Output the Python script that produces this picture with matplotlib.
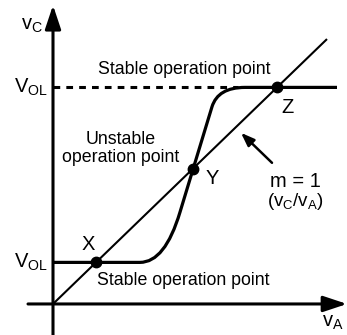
import matplotlib
matplotlib.use('Agg')
import matplotlib.pyplot as plt
from matplotlib.path import Path
from matplotlib.patches import PathPatch

plt.rcParams['font.family'] = ['Liberation Sans', 'DejaVu Sans']
plt.rcParams['mathtext.fontset'] = 'custom'
plt.rcParams['mathtext.rm'] = 'Liberation Sans'

# output levels of the transfer curve
v_ol_low = 43
v_ol_high = 224

# transfer curve: flat - rounded knee - steep rise - rounded knee - flat
curve_x = [0, 87, 112, 127, 159, 165, 192, 284]
curve_y = [v_ol_low, v_ol_low, v_ol_low, 95, 204, v_ol_high, v_ol_high, v_ol_high]
curve_codes = [Path.MOVETO, Path.LINETO, Path.CURVE3, Path.CURVE3,
               Path.LINETO, Path.CURVE3, Path.CURVE3, Path.LINETO]

# unity-gain line v_C = v_A
line_va = [0, 274]

# operating points
points = {'X': v_ol_low, 'Y': 140, 'Z': v_ol_high}

fig = plt.figure(figsize=(3.47, 3.35), dpi=100)
ax = fig.add_axes([0, 0, 1, 1])
ax.set_xlim(-53, 294)
ax.set_ylim(-32.1, 314.4)
ax.axis('off')

# axes with arrow heads
arrow = dict(arrowstyle='-|>,head_length=0.72,head_width=0.24', lw=2.2,
             color='black', shrinkA=0, shrinkB=0, mutation_scale=20)
ax.annotate('', xy=(0, 309), xytext=(0, -32), arrowprops=arrow)
ax.annotate('', xy=(294, 0), xytext=(-25, 0), arrowprops=arrow)

# m = 1 line
ax.plot(line_va, line_va, color='black', lw=1.5, solid_capstyle='butt')

# dashed level
ax.plot([0, 185], [v_ol_high, v_ol_high], color='black', lw=2.2,
        dashes=(2.2, 2.0))

path = Path(list(zip(curve_x, curve_y)), curve_codes)
ax.add_patch(PathPatch(path, fill=False, lw=2.3, edgecolor='black',
                       capstyle='butt', joinstyle='round'))

for name, v in points.items():
    ax.plot(v, v, 'o', color='black', ms=7.5)

big = 14.5
small = 12.8
ax.text(-21, 288, r'$\mathrm{v_C}$', fontsize=big, ha='center', va='center')
ax.text(280, -19, r'$\mathrm{v_A}$', fontsize=big, ha='center', va='center')
ax.text(-5, v_ol_high, r'$\mathrm{V_{OL}}$', fontsize=big, ha='right', va='center')
ax.text(-5, v_ol_low, r'$\mathrm{V_{OL}}$', fontsize=big, ha='right', va='center')

ax.text(131, 242, 'Stable operation point', fontsize=small, ha='center', va='center')
ax.text(130, 24, 'Stable operation point', fontsize=small, ha='center', va='center')
ax.text(68, 161, 'Unstable\noperation point', fontsize=small, ha='center',
        va='center', linespacing=1.05)

ax.text(35, 61, 'X', fontsize=big, ha='center', va='center')
ax.text(159, 130, 'Y', fontsize=big, ha='center', va='center')
ax.text(235, 203, 'Z', fontsize=big, ha='center', va='center')

ax.text(242, 127, 'm = 1', fontsize=14.5, ha='center', va='center')
ax.text(242, 106, r'$\mathrm{(v_C/v_A)}$', fontsize=13.5, ha='center', va='center')
ax.annotate('', xy=(188, 177), xytext=(219, 146),
            arrowprops=dict(arrowstyle='-|>,head_length=0.8,head_width=0.3',
                            lw=1.8, color='black', shrinkA=0, shrinkB=0))

fig.savefig('out.png', dpi=100)
